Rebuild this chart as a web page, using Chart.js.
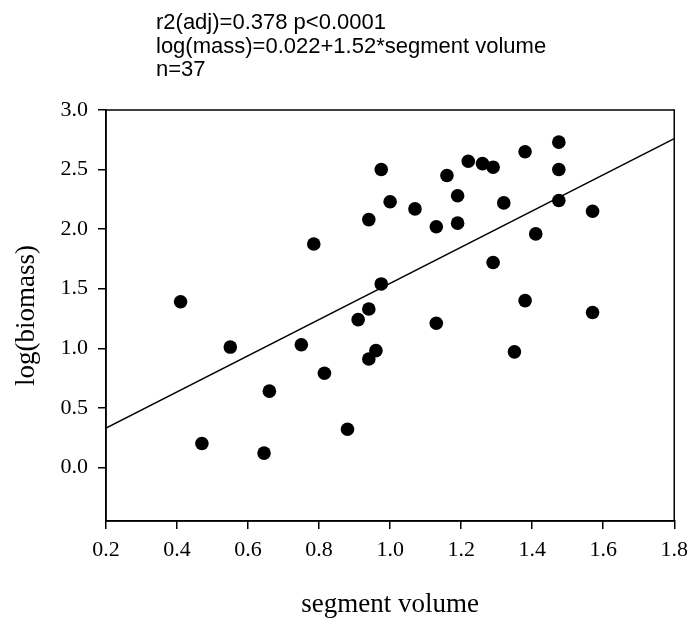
<!DOCTYPE html>
<html>
<head>
<meta charset="utf-8">
<script src="https://cdn.jsdelivr.net/npm/chart.js@4.4.0/dist/chart.umd.min.js"></script>
<style>
  html, body { margin: 0; padding: 0; background: #fff; }
</style>
</head>
<body>
<canvas id="scatterChart" width="696" height="618"></canvas>
<script>
// values
const segmentVolume = [0.41, 0.47, 0.55, 0.645, 0.66, 0.75, 0.785, 0.815, 0.88, 0.91,
  0.94, 0.94, 0.94, 0.96, 0.975, 0.975, 1.00, 1.07, 1.13, 1.13,
  1.16, 1.19, 1.19, 1.22, 1.26, 1.29, 1.29, 1.32, 1.35, 1.38,
  1.38, 1.41, 1.475, 1.475, 1.475, 1.57, 1.57];
const logBiomass = [1.39, 0.20, 1.01, 0.12, 0.64, 1.03, 1.875, 0.79, 0.32, 1.24,
  0.91, 1.33, 2.08, 0.98, 1.54, 2.50, 2.23, 2.17, 1.21, 2.02,
  2.45, 2.05, 2.28, 2.57, 2.55, 2.52, 1.72, 2.22, 0.97, 2.65,
  1.40, 1.96, 2.73, 2.50, 2.24, 2.15, 1.30];
const fitX = [0.2, 1.8];
const fitY = [0.33, 2.76];
const xTicks = [0.2, 0.4, 0.6, 0.8, 1.0, 1.2, 1.4, 1.6, 1.8];
const yTicks = [0.0, 0.5, 1.0, 1.5, 2.0, 2.5, 3.0];
const headerLines = ['r2(adj)=0.378 p<0.0001', 'log(mass)=0.022+1.52*segment volume', 'n=37'];

const serif = 'Liberation Serif, Times New Roman, serif';

// box round the plot and the three lines of text above it
const frame = {
  id: 'frame',
  afterDatasetsDraw(chart) {
    const {ctx, chartArea: a} = chart;
    ctx.save();
    ctx.strokeStyle = '#000';
    ctx.lineWidth = 1.5;
    ctx.strokeRect(a.left, a.top, a.right - a.left, a.bottom - a.top);
    ctx.restore();
  },
  afterDraw(chart) {
    const ctx = chart.ctx;
    ctx.save();
    ctx.fillStyle = '#000';
    ctx.font = '22px Liberation Sans, Arial, sans-serif';
    ctx.textBaseline = 'alphabetic';
    headerLines.forEach((t, i) => ctx.fillText(t, 156, 29 + i * 23.5));
    ctx.restore();
  }
};

new Chart(document.getElementById('scatterChart'), {
  data: {
    datasets: [{
      type: 'scatter',
      data: segmentVolume.map((x, i) => ({x: x, y: logBiomass[i]})),
      backgroundColor: '#000',
      borderColor: '#000',
      borderWidth: 0,
      pointRadius: 6.8,
      pointHoverRadius: 6.8
    }, {
      type: 'line',
      data: fitX.map((x, i) => ({x: x, y: fitY[i]})),
      borderColor: '#000',
      borderWidth: 1.5,
      pointRadius: 0,
      fill: false
    }]
  },
  options: {
    responsive: false,
    animation: false,
    layout: {padding: {left: 0, right: 17, top: 110, bottom: 0}},
    plugins: {legend: {display: false}, tooltip: {enabled: false}},
    scales: {
      x: {
        type: 'linear',
        min: 0.2,
        max: 1.8,
        afterBuildTicks: s => { s.ticks = xTicks.map(v => ({value: v})); },
        afterFit: s => { s.height = 97; },
        grid: {drawOnChartArea: false, color: '#000', lineWidth: 1.5, tickLength: 8},
        border: {color: '#000', width: 1.5},
        ticks: {color: '#000', font: {family: serif, size: 22}, padding: 8,
          maxRotation: 0, callback: v => v.toFixed(1)},
        title: {display: true, text: 'segment volume', color: '#000',
          font: {family: serif, size: 27}, padding: {top: 0, bottom: -3}}
      },
      y: {
        type: 'linear',
        min: -0.45,
        max: 3.0,
        afterBuildTicks: s => { s.ticks = yTicks.map(v => ({value: v})); },
        afterFit: s => { s.width = 106; },
        grid: {drawOnChartArea: false, color: '#000', lineWidth: 1.5, tickLength: 8},
        border: {color: '#000', width: 1.5},
        ticks: {color: '#000', font: {family: serif, size: 22}, padding: 10,
          callback: v => v.toFixed(1)},
        title: {display: true, text: 'log(biomass)', color: '#000',
          font: {family: serif, size: 27}, padding: {top: 11, bottom: 0}}
      }
    }
  },
  plugins: [frame]
});
</script>
</body>
</html>
